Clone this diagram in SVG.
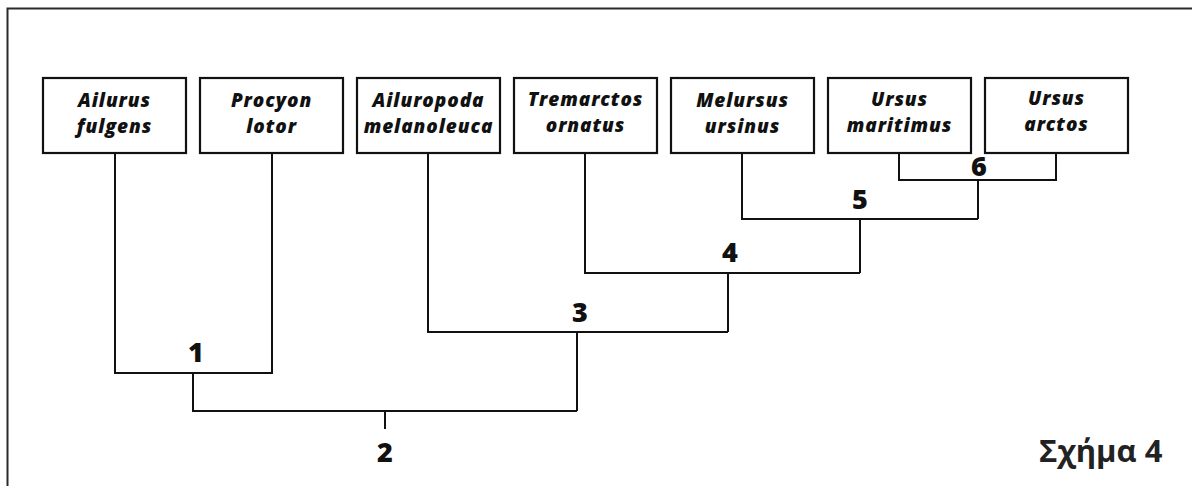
<svg xmlns="http://www.w3.org/2000/svg" width="1192" height="486" viewBox="0 0 1192 486">
  <style>
    .frame { fill: none; stroke: #2a2a2a; stroke-width: 2; }
    .box rect { fill: #fff; stroke: #111; stroke-width: 2.2; }
    .box text { font-family: "Open Sans", "DejaVu Sans", sans-serif; font-weight: 800; font-style: italic; font-size: 19px; letter-spacing: 0.9px; fill: #111; text-anchor: middle; }
    .edges path { fill: none; stroke: #111; stroke-width: 2; }
    .num { font-family: "Open Sans", "DejaVu Sans", sans-serif; font-weight: 800; font-size: 27px; fill: #111; text-anchor: middle; }
    .caption { font-family: "Open Sans", "DejaVu Sans", sans-serif; font-weight: bold; font-size: 31px; fill: #222; }
  </style>
  <rect x="0" y="0" width="1192" height="486" fill="#fff"/>
  <!-- open frame: top and left edges only -->
  <path class="frame" d="M7.5 487 V8.5 H1193"/>

  <!-- taxa -->
  <g id="ailurus-fulgens" class="box">
    <rect x="43" y="78" width="143" height="75"/>
    <text x="114.5" y="107">Ailurus</text>
    <text x="114.5" y="133">fulgens</text>
  </g>
  <g id="procyon-lotor" class="box">
    <rect x="200" y="78" width="143" height="75"/>
    <text x="271.5" y="107">Procyon</text>
    <text x="271.5" y="133">lotor</text>
  </g>
  <g id="ailuropoda-melanoleuca" class="box">
    <rect x="357" y="78" width="143" height="75"/>
    <text x="428.5" y="107">Ailuropoda</text>
    <text x="428.5" y="133">melanoleuca</text>
  </g>
  <g id="tremarctos-ornatus" class="box">
    <rect x="514" y="78" width="143" height="75"/>
    <text x="585.5" y="106">Tremarctos</text>
    <text x="585.5" y="132">ornatus</text>
  </g>
  <g id="melursus-ursinus" class="box">
    <rect x="671" y="78" width="143" height="75"/>
    <text x="742.5" y="107">Melursus</text>
    <text x="742.5" y="133">ursinus</text>
  </g>
  <g id="ursus-maritimus" class="box">
    <rect x="828" y="78" width="143" height="75"/>
    <text x="899.5" y="106">Ursus</text>
    <text x="899.5" y="132">maritimus</text>
  </g>
  <g id="ursus-arctos" class="box">
    <rect x="985" y="78" width="143" height="75"/>
    <text x="1056.5" y="105">Ursus</text>
    <text x="1056.5" y="131">arctos</text>
  </g>

  <!-- tree branches -->
  <g id="connectors" class="edges">
    <path d="M899 153 V180 H1056 V153"/>
    <path d="M978 180 V219"/>
    <path d="M742 153 V219 H978"/>
    <path d="M860 219 V273"/>
    <path d="M585 153 V273 H860"/>
    <path d="M728 273 V332"/>
    <path d="M428 153 V332 H728"/>
    <path d="M577 332 V411"/>
    <path d="M115 153 V373 H272 V153"/>
    <path d="M193 373 V411 H577"/>
    <path d="M385 411 V429"/>
  </g>

  <!-- node numbers -->
  <g id="node-labels">
    <text class="num" x="196" y="362">1</text>
    <text class="num" x="385" y="462">2</text>
    <text class="num" x="580" y="322">3</text>
    <text class="num" x="730" y="262">4</text>
    <text class="num" x="860" y="209">5</text>
    <text class="num" x="979" y="176">6</text>
  </g>

  <text id="caption" class="caption" x="1039" y="462">Σχήμα 4</text>
</svg>
